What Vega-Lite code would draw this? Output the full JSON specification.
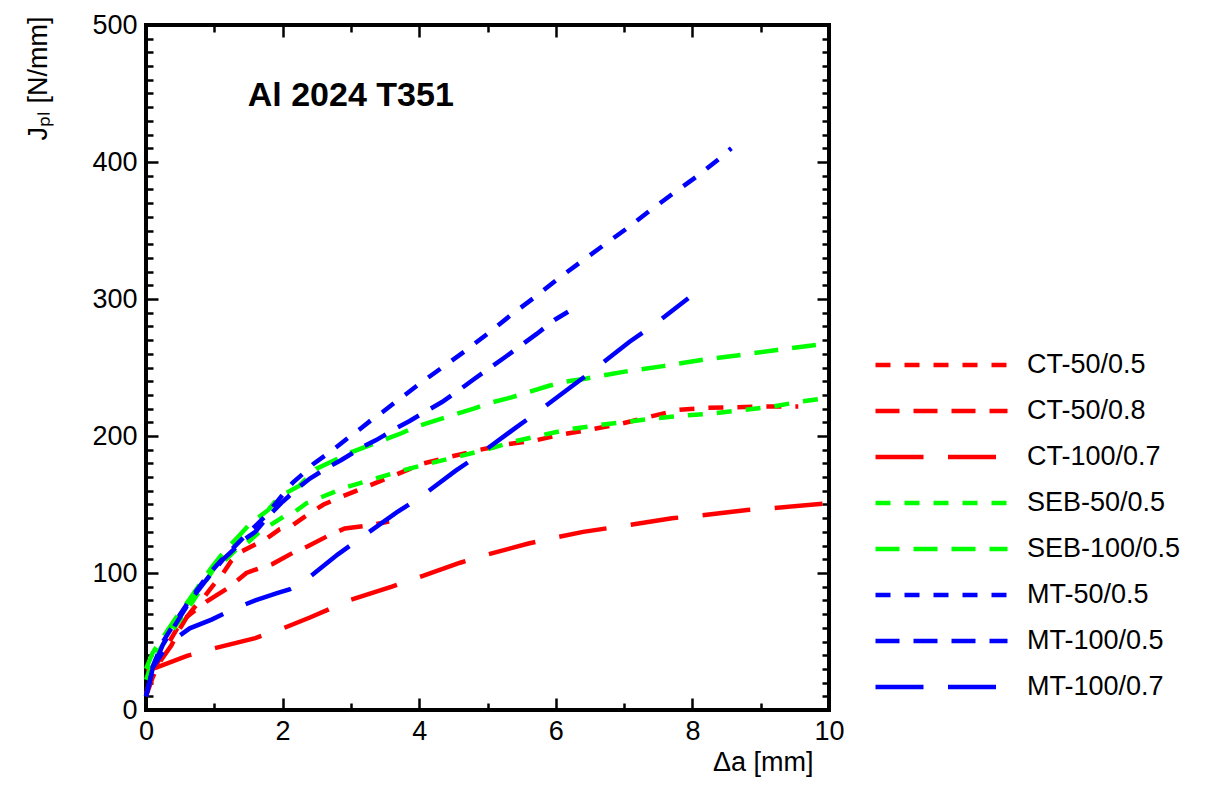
{
  "$schema": "https://vega.github.io/schema/vega-lite/v6.json",
  "width": 683,
  "height": 685,
  "autosize": {"type": "none"},
  "padding": {"left": 146, "top": 25, "right": 381, "bottom": 80},
  "background": "white",
  "config": {
    "view": {"stroke": "black", "strokeWidth": 4},
    "font": "Liberation Sans",
    "axis": {
      "domain": false, "grid": false,
      "labelFont": "Liberation Sans", "labelFontSize": 27, "labelColor": "black",
      "titleFont": "Liberation Sans", "titleFontSize": 27, "titleFontWeight": "normal", "titleColor": "black",
      "tickColor": "black", "tickWidth": 2.5
    }
  },
  "datasets": {
    "curves": [
      {"series": "CT-50/0.5", "da": 0, "J": 12}, {"series": "CT-50/0.5", "da": 0.1, "J": 28}, {"series": "CT-50/0.5", "da": 0.25, "J": 42}, {"series": "CT-50/0.5", "da": 0.45, "J": 59}, {"series": "CT-50/0.5", "da": 0.57, "J": 66}, {"series": "CT-50/0.5", "da": 0.71, "J": 75}, {"series": "CT-50/0.5", "da": 0.86, "J": 83}, {"series": "CT-50/0.5", "da": 1.0, "J": 92}, {"series": "CT-50/0.5", "da": 1.13, "J": 100}, {"series": "CT-50/0.5", "da": 1.25, "J": 109}, {"series": "CT-50/0.5", "da": 1.37, "J": 115}, {"series": "CT-50/0.5", "da": 1.57, "J": 120}, {"series": "CT-50/0.5", "da": 1.76, "J": 125}, {"series": "CT-50/0.5", "da": 1.96, "J": 132}, {"series": "CT-50/0.5", "da": 2.15, "J": 135}, {"series": "CT-50/0.5", "da": 2.32, "J": 141}, {"series": "CT-50/0.5", "da": 2.6, "J": 150}, {"series": "CT-50/0.5", "da": 2.88, "J": 156}, {"series": "CT-50/0.5", "da": 3.28, "J": 164}, {"series": "CT-50/0.5", "da": 3.67, "J": 172}, {"series": "CT-50/0.5", "da": 4.06, "J": 180}, {"series": "CT-50/0.5", "da": 4.47, "J": 185}, {"series": "CT-50/0.5", "da": 4.89, "J": 190}, {"series": "CT-50/0.5", "da": 5.3, "J": 194}, {"series": "CT-50/0.5", "da": 5.72, "J": 197}, {"series": "CT-50/0.5", "da": 6.13, "J": 201.5}, {"series": "CT-50/0.5", "da": 6.54, "J": 205}, {"series": "CT-50/0.5", "da": 6.96, "J": 209}, {"series": "CT-50/0.5", "da": 7.37, "J": 214}, {"series": "CT-50/0.5", "da": 7.79, "J": 219}, {"series": "CT-50/0.5", "da": 8.2, "J": 220.5}, {"series": "CT-50/0.5", "da": 8.63, "J": 221}, {"series": "CT-50/0.5", "da": 9.05, "J": 221.5}, {"series": "CT-50/0.5", "da": 9.55, "J": 221.5},

      {"series": "CT-50/0.8", "da": 0, "J": 10}, {"series": "CT-50/0.8", "da": 0.1, "J": 24}, {"series": "CT-50/0.8", "da": 0.2, "J": 35}, {"series": "CT-50/0.8", "da": 0.37, "J": 47}, {"series": "CT-50/0.8", "da": 0.48, "J": 58}, {"series": "CT-50/0.8", "da": 0.6, "J": 68}, {"series": "CT-50/0.8", "da": 0.88, "J": 79}, {"series": "CT-50/0.8", "da": 1.2, "J": 89}, {"series": "CT-50/0.8", "da": 1.35, "J": 95}, {"series": "CT-50/0.8", "da": 1.47, "J": 100}, {"series": "CT-50/0.8", "da": 1.66, "J": 103.5}, {"series": "CT-50/0.8", "da": 1.85, "J": 106.5}, {"series": "CT-50/0.8", "da": 2.16, "J": 115}, {"series": "CT-50/0.8", "da": 2.37, "J": 119.5}, {"series": "CT-50/0.8", "da": 2.66, "J": 127}, {"series": "CT-50/0.8", "da": 2.91, "J": 132.5}, {"series": "CT-50/0.8", "da": 3.23, "J": 134.5}, {"series": "CT-50/0.8", "da": 3.56, "J": 137.5},

      {"series": "CT-100/0.7", "da": 0, "J": 29}, {"series": "CT-100/0.7", "da": 0.15, "J": 31}, {"series": "CT-100/0.7", "da": 0.6, "J": 39.5}, {"series": "CT-100/0.7", "da": 1.0, "J": 45}, {"series": "CT-100/0.7", "da": 1.6, "J": 52.5}, {"series": "CT-100/0.7", "da": 2.0, "J": 59.5}, {"series": "CT-100/0.7", "da": 2.4, "J": 67.5}, {"series": "CT-100/0.7", "da": 3.0, "J": 80.5}, {"series": "CT-100/0.7", "da": 3.6, "J": 90}, {"series": "CT-100/0.7", "da": 4.0, "J": 97}, {"series": "CT-100/0.7", "da": 4.6, "J": 107.5}, {"series": "CT-100/0.7", "da": 5.0, "J": 113.5}, {"series": "CT-100/0.7", "da": 5.6, "J": 121.5}, {"series": "CT-100/0.7", "da": 6.0, "J": 126}, {"series": "CT-100/0.7", "da": 6.4, "J": 130}, {"series": "CT-100/0.7", "da": 7.0, "J": 134.5}, {"series": "CT-100/0.7", "da": 7.7, "J": 140}, {"series": "CT-100/0.7", "da": 8.1, "J": 141.8}, {"series": "CT-100/0.7", "da": 8.8, "J": 146}, {"series": "CT-100/0.7", "da": 9.2, "J": 147.5}, {"series": "CT-100/0.7", "da": 10, "J": 151},

      {"series": "SEB-50/0.5", "da": 0, "J": 22}, {"series": "SEB-50/0.5", "da": 0.1, "J": 36}, {"series": "SEB-50/0.5", "da": 0.3, "J": 52}, {"series": "SEB-50/0.5", "da": 0.6, "J": 73}, {"series": "SEB-50/0.5", "da": 0.8, "J": 88}, {"series": "SEB-50/0.5", "da": 1.01, "J": 104.6}, {"series": "SEB-50/0.5", "da": 1.13, "J": 108}, {"series": "SEB-50/0.5", "da": 1.32, "J": 117}, {"series": "SEB-50/0.5", "da": 1.46, "J": 121}, {"series": "SEB-50/0.5", "da": 1.64, "J": 129}, {"series": "SEB-50/0.5", "da": 1.79, "J": 134}, {"series": "SEB-50/0.5", "da": 2.01, "J": 141}, {"series": "SEB-50/0.5", "da": 2.16, "J": 144}, {"series": "SEB-50/0.5", "da": 2.35, "J": 151}, {"series": "SEB-50/0.5", "da": 2.93, "J": 162.6}, {"series": "SEB-50/0.5", "da": 3.34, "J": 168.6}, {"series": "SEB-50/0.5", "da": 3.74, "J": 174.7}, {"series": "SEB-50/0.5", "da": 4.15, "J": 180}, {"series": "SEB-50/0.5", "da": 4.57, "J": 185}, {"series": "SEB-50/0.5", "da": 4.98, "J": 190}, {"series": "SEB-50/0.5", "da": 5.39, "J": 196}, {"series": "SEB-50/0.5", "da": 5.8, "J": 200.7}, {"series": "SEB-50/0.5", "da": 6.21, "J": 205}, {"series": "SEB-50/0.5", "da": 6.63, "J": 208}, {"series": "SEB-50/0.5", "da": 7.06, "J": 210.4}, {"series": "SEB-50/0.5", "da": 7.47, "J": 213}, {"series": "SEB-50/0.5", "da": 7.9, "J": 215}, {"series": "SEB-50/0.5", "da": 8.33, "J": 216.6}, {"series": "SEB-50/0.5", "da": 8.74, "J": 219}, {"series": "SEB-50/0.5", "da": 9.16, "J": 221.4}, {"series": "SEB-50/0.5", "da": 9.57, "J": 225}, {"series": "SEB-50/0.5", "da": 10, "J": 228},

      {"series": "SEB-100/0.5", "da": 0, "J": 30}, {"series": "SEB-100/0.5", "da": 0.1, "J": 42}, {"series": "SEB-100/0.5", "da": 0.3, "J": 57}, {"series": "SEB-100/0.5", "da": 0.45, "J": 68}, {"series": "SEB-100/0.5", "da": 0.64, "J": 81}, {"series": "SEB-100/0.5", "da": 0.96, "J": 104}, {"series": "SEB-100/0.5", "da": 1.15, "J": 116}, {"series": "SEB-100/0.5", "da": 1.37, "J": 127.5}, {"series": "SEB-100/0.5", "da": 1.52, "J": 135.8}, {"series": "SEB-100/0.5", "da": 1.79, "J": 146}, {"series": "SEB-100/0.5", "da": 1.95, "J": 155.7}, {"series": "SEB-100/0.5", "da": 2.24, "J": 163.5}, {"series": "SEB-100/0.5", "da": 2.49, "J": 176}, {"series": "SEB-100/0.5", "da": 3.0, "J": 188}, {"series": "SEB-100/0.5", "da": 3.42, "J": 196}, {"series": "SEB-100/0.5", "da": 3.74, "J": 202}, {"series": "SEB-100/0.5", "da": 3.95, "J": 206.8}, {"series": "SEB-100/0.5", "da": 4.27, "J": 211.7}, {"series": "SEB-100/0.5", "da": 4.49, "J": 215.3}, {"series": "SEB-100/0.5", "da": 4.81, "J": 220.2}, {"series": "SEB-100/0.5", "da": 5.02, "J": 224}, {"series": "SEB-100/0.5", "da": 5.35, "J": 228.2}, {"series": "SEB-100/0.5", "da": 5.57, "J": 231.6}, {"series": "SEB-100/0.5", "da": 5.89, "J": 236.5}, {"series": "SEB-100/0.5", "da": 6.13, "J": 239.6}, {"series": "SEB-100/0.5", "da": 6.45, "J": 242}, {"series": "SEB-100/0.5", "da": 7.01, "J": 247}, {"series": "SEB-100/0.5", "da": 7.57, "J": 251}, {"series": "SEB-100/0.5", "da": 8.13, "J": 255.5}, {"series": "SEB-100/0.5", "da": 8.68, "J": 259}, {"series": "SEB-100/0.5", "da": 9.24, "J": 262.8}, {"series": "SEB-100/0.5", "da": 9.81, "J": 266.4}, {"series": "SEB-100/0.5", "da": 10, "J": 268},

      {"series": "MT-50/0.5", "da": 0, "J": 10}, {"series": "MT-50/0.5", "da": 0.1, "J": 32}, {"series": "MT-50/0.5", "da": 0.25, "J": 50}, {"series": "MT-50/0.5", "da": 0.45, "J": 66}, {"series": "MT-50/0.5", "da": 0.65, "J": 81}, {"series": "MT-50/0.5", "da": 0.9, "J": 98}, {"series": "MT-50/0.5", "da": 1.15, "J": 112}, {"series": "MT-50/0.5", "da": 1.45, "J": 127}, {"series": "MT-50/0.5", "da": 1.74, "J": 141}, {"series": "MT-50/0.5", "da": 2.0, "J": 157}, {"series": "MT-50/0.5", "da": 2.15, "J": 166}, {"series": "MT-50/0.5", "da": 2.3, "J": 172.5}, {"series": "MT-50/0.5", "da": 2.45, "J": 179.6}, {"series": "MT-50/0.5", "da": 2.63, "J": 186}, {"series": "MT-50/0.5", "da": 2.79, "J": 192}, {"series": "MT-50/0.5", "da": 2.97, "J": 199}, {"series": "MT-50/0.5", "da": 3.13, "J": 205}, {"series": "MT-50/0.5", "da": 3.3, "J": 211.7}, {"series": "MT-50/0.5", "da": 3.47, "J": 217.7}, {"series": "MT-50/0.5", "da": 3.64, "J": 224.3}, {"series": "MT-50/0.5", "da": 3.81, "J": 230.7}, {"series": "MT-50/0.5", "da": 3.98, "J": 237.2}, {"series": "MT-50/0.5", "da": 4.32, "J": 249.4}, {"series": "MT-50/0.5", "da": 4.67, "J": 262}, {"series": "MT-50/0.5", "da": 5.01, "J": 275}, {"series": "MT-50/0.5", "da": 5.33, "J": 287.8}, {"series": "MT-50/0.5", "da": 5.67, "J": 300.5}, {"series": "MT-50/0.5", "da": 6.01, "J": 313.9}, {"series": "MT-50/0.5", "da": 6.35, "J": 326.5}, {"series": "MT-50/0.5", "da": 6.69, "J": 338.9}, {"series": "MT-50/0.5", "da": 7.03, "J": 351.1}, {"series": "MT-50/0.5", "da": 7.37, "J": 364.2}, {"series": "MT-50/0.5", "da": 7.72, "J": 377.1}, {"series": "MT-50/0.5", "da": 8.06, "J": 389.3}, {"series": "MT-50/0.5", "da": 8.4, "J": 402.7}, {"series": "MT-50/0.5", "da": 8.57, "J": 410},

      {"series": "MT-100/0.5", "da": 0, "J": 10}, {"series": "MT-100/0.5", "da": 0.1, "J": 30}, {"series": "MT-100/0.5", "da": 0.25, "J": 48}, {"series": "MT-100/0.5", "da": 0.45, "J": 64}, {"series": "MT-100/0.5", "da": 0.65, "J": 80}, {"series": "MT-100/0.5", "da": 0.9, "J": 96}, {"series": "MT-100/0.5", "da": 1.13, "J": 110}, {"series": "MT-100/0.5", "da": 1.45, "J": 125}, {"series": "MT-100/0.5", "da": 1.6, "J": 130}, {"series": "MT-100/0.5", "da": 1.8, "J": 142}, {"series": "MT-100/0.5", "da": 2.0, "J": 152}, {"series": "MT-100/0.5", "da": 2.2, "J": 161}, {"series": "MT-100/0.5", "da": 2.4, "J": 169}, {"series": "MT-100/0.5", "da": 2.66, "J": 177}, {"series": "MT-100/0.5", "da": 2.86, "J": 182.5}, {"series": "MT-100/0.5", "da": 3.17, "J": 192}, {"series": "MT-100/0.5", "da": 3.37, "J": 197}, {"series": "MT-100/0.5", "da": 3.66, "J": 205.6}, {"series": "MT-100/0.5", "da": 3.86, "J": 211}, {"series": "MT-100/0.5", "da": 4.15, "J": 219.5}, {"series": "MT-100/0.5", "da": 4.34, "J": 225}, {"series": "MT-100/0.5", "da": 4.62, "J": 234.8}, {"series": "MT-100/0.5", "da": 4.8, "J": 241.4}, {"series": "MT-100/0.5", "da": 5.07, "J": 251}, {"series": "MT-100/0.5", "da": 5.27, "J": 258}, {"series": "MT-100/0.5", "da": 5.54, "J": 268}, {"series": "MT-100/0.5", "da": 5.72, "J": 274.5}, {"series": "MT-100/0.5", "da": 5.98, "J": 284.7}, {"series": "MT-100/0.5", "da": 6.18, "J": 290.7},

      {"series": "MT-100/0.7", "da": 0, "J": 10}, {"series": "MT-100/0.7", "da": 0.05, "J": 20}, {"series": "MT-100/0.7", "da": 0.1, "J": 31}, {"series": "MT-100/0.7", "da": 0.27, "J": 44}, {"series": "MT-100/0.7", "da": 0.4, "J": 51}, {"series": "MT-100/0.7", "da": 0.64, "J": 59.6}, {"series": "MT-100/0.7", "da": 0.96, "J": 66}, {"series": "MT-100/0.7", "da": 1.3, "J": 74}, {"series": "MT-100/0.7", "da": 1.6, "J": 80}, {"series": "MT-100/0.7", "da": 1.93, "J": 85.5}, {"series": "MT-100/0.7", "da": 2.1, "J": 88}, {"series": "MT-100/0.7", "da": 2.27, "J": 92}, {"series": "MT-100/0.7", "da": 2.81, "J": 113.6}, {"series": "MT-100/0.7", "da": 3.1, "J": 124}, {"series": "MT-100/0.7", "da": 3.67, "J": 144.3}, {"series": "MT-100/0.7", "da": 3.98, "J": 154}, {"series": "MT-100/0.7", "da": 4.53, "J": 174.5}, {"series": "MT-100/0.7", "da": 4.85, "J": 185.4}, {"series": "MT-100/0.7", "da": 5.4, "J": 205.6}, {"series": "MT-100/0.7", "da": 5.69, "J": 216}, {"series": "MT-100/0.7", "da": 6.24, "J": 236.5}, {"series": "MT-100/0.7", "da": 6.54, "J": 247.7}, {"series": "MT-100/0.7", "da": 7.08, "J": 268.8}, {"series": "MT-100/0.7", "da": 7.4, "J": 279.8}, {"series": "MT-100/0.7", "da": 7.94, "J": 300.5}
    ],
    "anchor": [{"da": 0, "J": 0}],
    "note": [{"da": 1.49, "J": 448, "label": "Al 2024 T351"}]
  },
  "resolve": {"axis": {"x": "independent", "y": "independent"}},
  "layer": [
    {
      "data": {"name": "curves"},
      "mark": {"type": "line", "strokeWidth": 4.5, "strokeCap": "butt"},
      "encoding": {
        "x": {"field": "da", "type": "quantitative", "scale": {"domain": [0, 10], "nice": false, "zero": false},
          "axis": {"orient": "bottom", "values": [0, 2, 4, 6, 8, 10], "ticks": false, "labelPadding": 8, "labelFlush": false,
            "title": "Δa [mm]", "titleX": 667, "titleY": 52, "titleAlign": "right", "titleBaseline": "middle", "titleAnchor": null}},
        "y": {"field": "J", "type": "quantitative", "scale": {"domain": [0, 500], "nice": false, "zero": false},
          "axis": {"orient": "left", "values": [0, 100, 200, 300, 400, 500], "ticks": false, "labelPadding": 9, "labelFlush": false,
            "title": "Jₚₗ [N/mm]", "titleX": -108, "titleY": 115, "titleAngle": 270, "titleAlign": "left", "titleBaseline": "middle", "titleAnchor": null}},
        "color": {"field": "series", "type": "nominal",
          "scale": {"domain": ["CT-50/0.5", "CT-50/0.8", "CT-100/0.7", "SEB-50/0.5", "SEB-100/0.5", "MT-50/0.5", "MT-100/0.5", "MT-100/0.7"],
            "range": ["#ff0000", "#ff0000", "#ff0000", "#00ff00", "#00ff00", "#0000ff", "#0000ff", "#0000ff"]},
          "legend": {"orient": "none", "legendX": 727, "legendY": 317, "title": null, "symbolType": "stroke", "symbolSize": 17424,
            "symbolStrokeWidth": 4.5, "clipHeight": 46, "rowPadding": 0, "labelFont": "Liberation Sans", "labelFontSize": 27,
            "labelColor": "black", "labelOffset": 17, "labelLimit": 300}},
        "strokeDash": {"field": "series", "type": "nominal",
          "scale": {"domain": ["CT-50/0.5", "CT-50/0.8", "CT-100/0.7", "SEB-50/0.5", "SEB-100/0.5", "MT-50/0.5", "MT-100/0.5", "MT-100/0.7"],
            "range": [[15, 14], [24, 14], [48, 24.5], [15, 14], [24, 14], [15, 14], [24, 14], [48, 24.5]]},
          "legend": {"orient": "none", "legendX": 727, "legendY": 317, "title": null, "symbolType": "stroke", "symbolSize": 17424,
            "symbolStrokeWidth": 4.5, "clipHeight": 46, "rowPadding": 0, "labelFont": "Liberation Sans", "labelFontSize": 27,
            "labelColor": "black", "labelOffset": 17, "labelLimit": 300}}
      }
    },
    {
      "data": {"name": "anchor"},
      "mark": {"type": "point", "opacity": 0},
      "encoding": {
        "x": {"field": "da", "type": "quantitative", "axis": {"orient": "bottom", "values": [0, 2, 4, 6, 8, 10], "labels": false, "tickSize": -12, "title": null}},
        "y": {"field": "J", "type": "quantitative", "axis": {"orient": "left", "values": [0, 100, 200, 300, 400, 500], "labels": false, "tickSize": -12, "title": null}}
      }
    },
    {
      "data": {"name": "anchor"},
      "mark": {"type": "point", "opacity": 0},
      "encoding": {
        "x": {"field": "da", "type": "quantitative", "axis": {"orient": "bottom", "values": [1, 3, 5, 7, 9], "labels": false, "tickSize": -7, "title": null}},
        "y": {"field": "J", "type": "quantitative", "axis": {"orient": "left", "values": [10, 20, 30, 40, 50, 60, 70, 80, 90, 110, 120, 130, 140, 150, 160, 170, 180, 190, 210, 220, 230, 240, 250, 260, 270, 280, 290, 310, 320, 330, 340, 350, 360, 370, 380, 390, 410, 420, 430, 440, 450, 460, 470, 480, 490], "labels": false, "tickSize": -7, "title": null}}
      }
    },
    {
      "data": {"name": "anchor"},
      "mark": {"type": "point", "opacity": 0},
      "encoding": {
        "x": {"field": "da", "type": "quantitative", "axis": {"orient": "top", "values": [0, 2, 4, 6, 8, 10], "labels": false, "tickSize": -12, "title": null}},
        "y": {"field": "J", "type": "quantitative", "axis": {"orient": "right", "values": [0, 100, 200, 300, 400, 500], "labels": false, "tickSize": -12, "title": null}}
      }
    },
    {
      "data": {"name": "anchor"},
      "mark": {"type": "point", "opacity": 0},
      "encoding": {
        "x": {"field": "da", "type": "quantitative", "axis": {"orient": "top", "values": [1, 3, 5, 7, 9], "labels": false, "tickSize": -7, "title": null}},
        "y": {"field": "J", "type": "quantitative", "axis": {"orient": "right", "values": [10, 20, 30, 40, 50, 60, 70, 80, 90, 110, 120, 130, 140, 150, 160, 170, 180, 190, 210, 220, 230, 240, 250, 260, 270, 280, 290, 310, 320, 330, 340, 350, 360, 370, 380, 390, 410, 420, 430, 440, 450, 460, 470, 480, 490], "labels": false, "tickSize": -7, "title": null}}
      }
    },
    {
      "data": {"name": "note"},
      "mark": {"type": "text", "align": "left", "baseline": "middle", "font": "Liberation Sans", "fontSize": 34, "fontWeight": "bold", "color": "black"},
      "encoding": {
        "x": {"field": "da", "type": "quantitative", "axis": null},
        "y": {"field": "J", "type": "quantitative", "axis": null},
        "text": {"field": "label"}
      }
    }
  ]
}
